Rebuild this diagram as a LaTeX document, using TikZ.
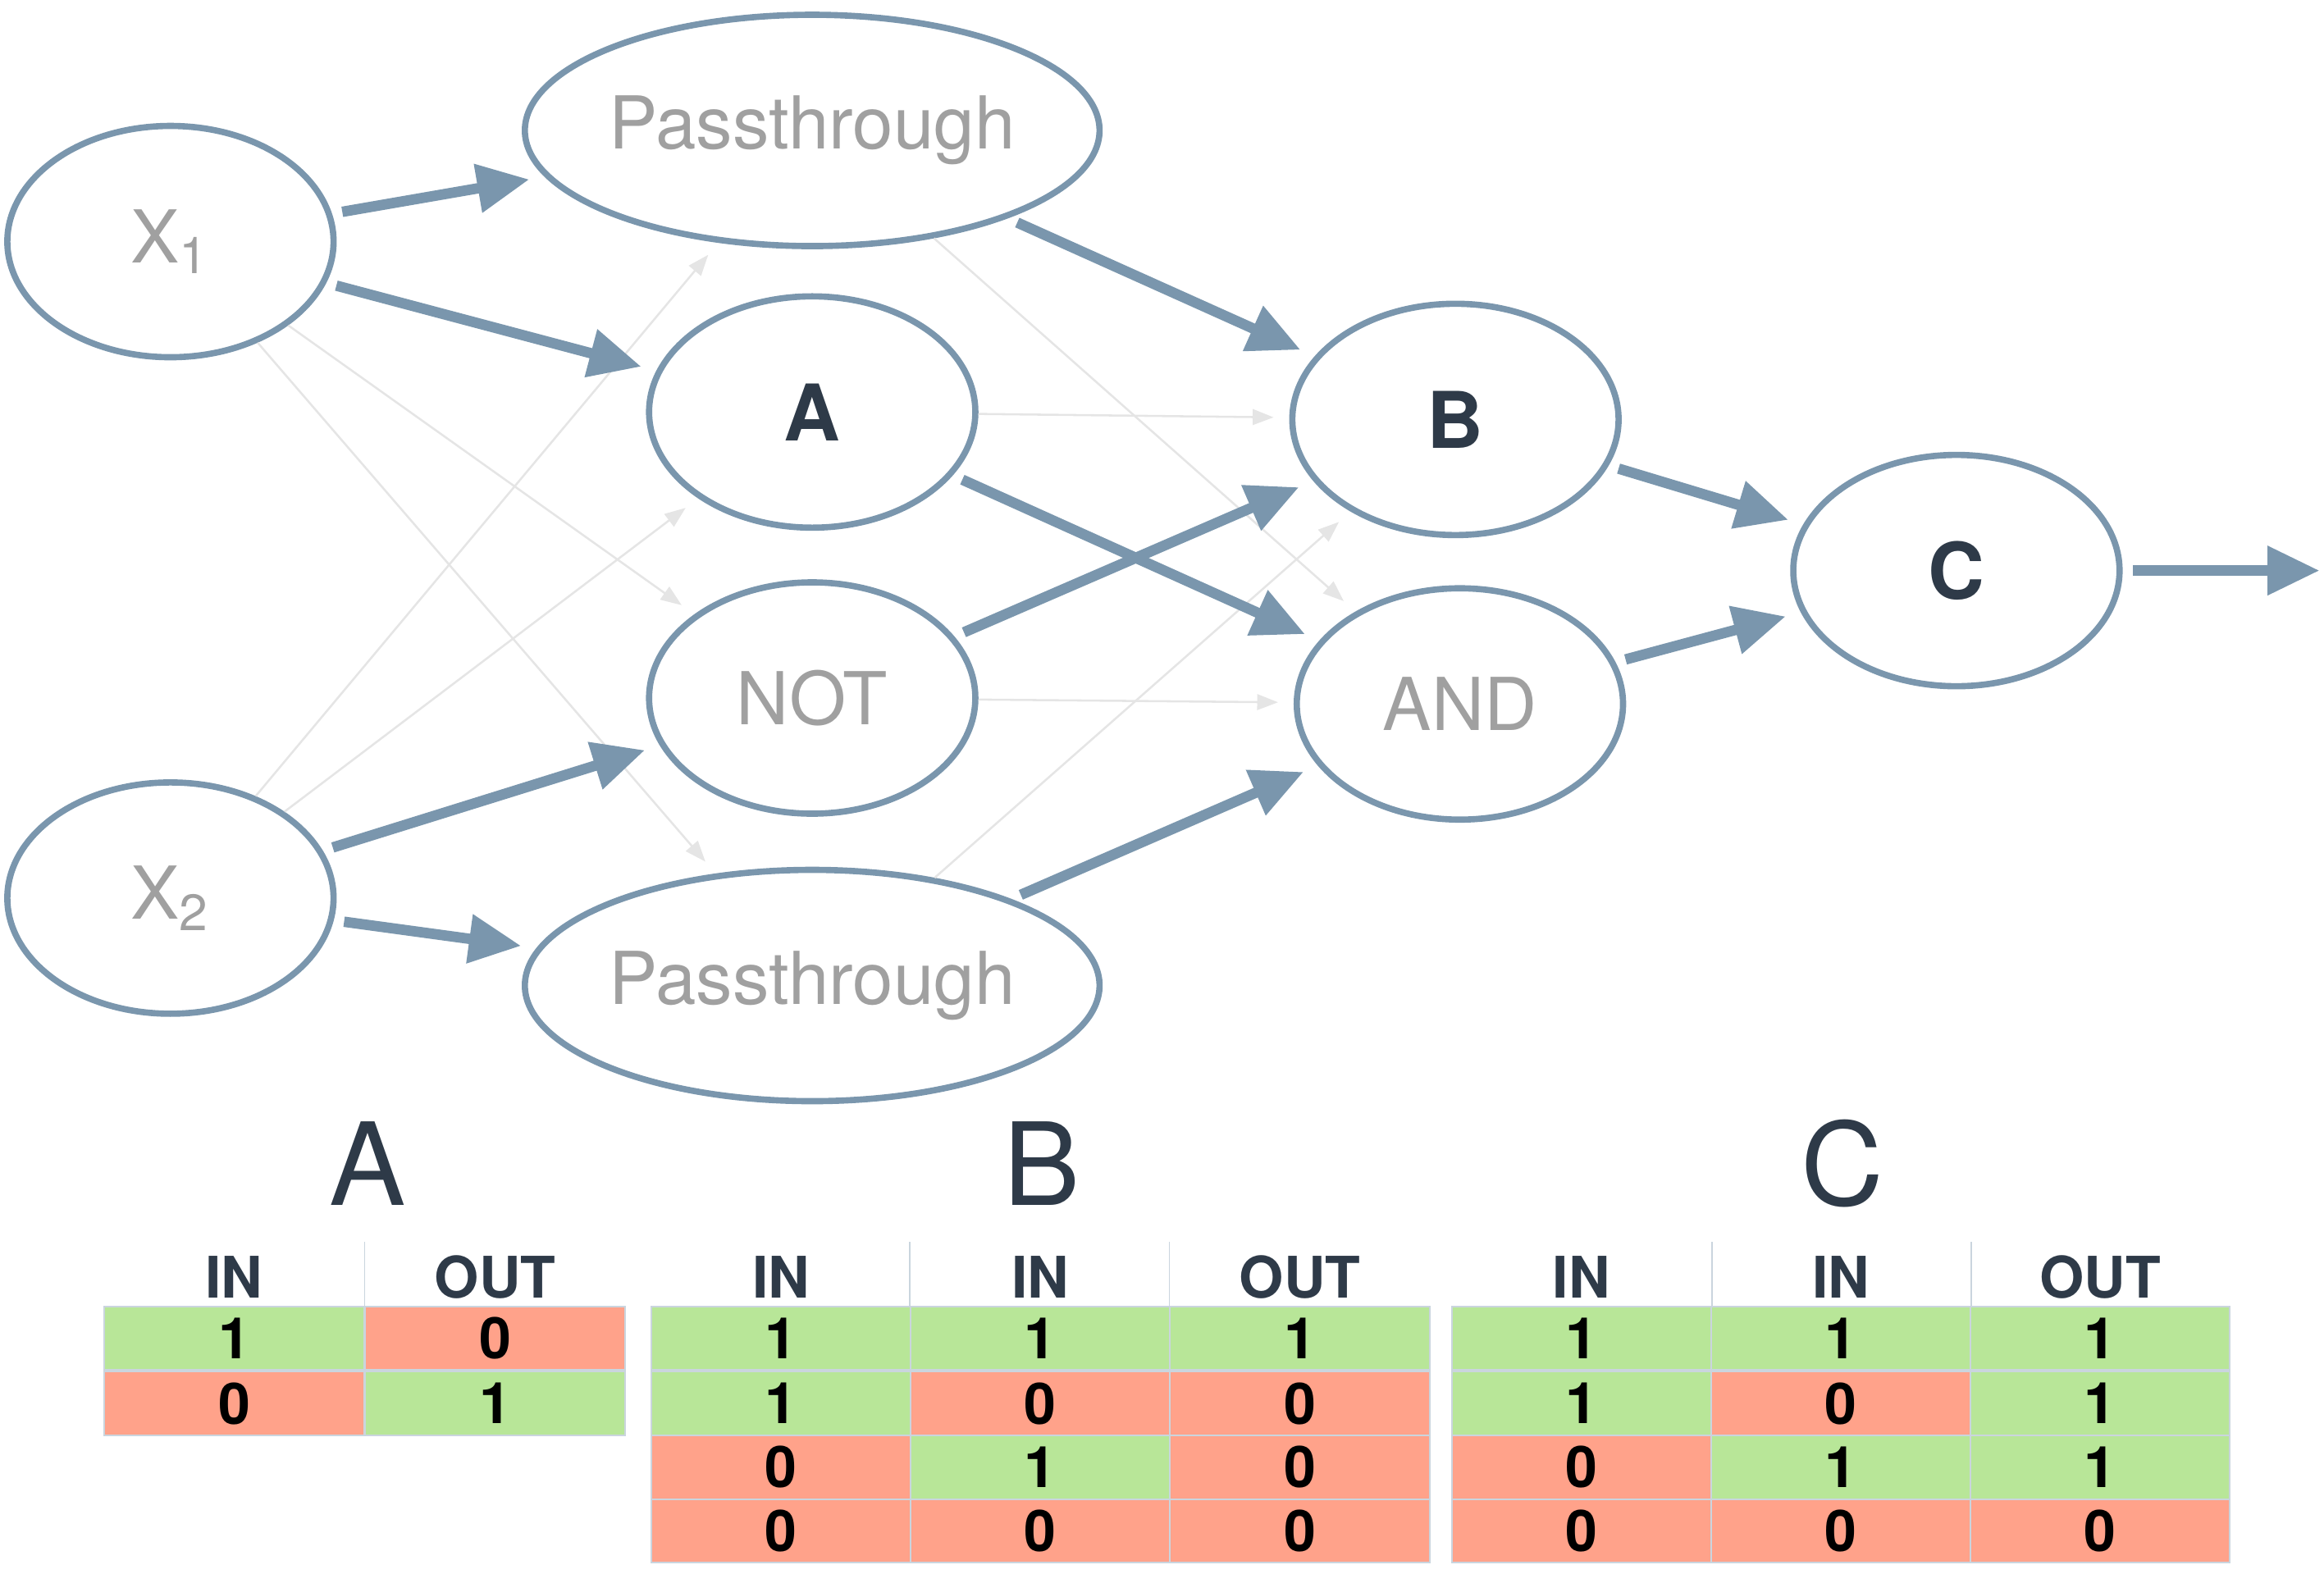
\documentclass[tikz,border=0pt]{standalone}
\usepackage{fontspec}
\setmainfont{TeX Gyre Heros}
\usetikzlibrary{arrows.meta,shapes.geometric}
\definecolor{edgeblue}{HTML}{7A96AD}
\definecolor{okgreen}{HTML}{B8E698}
\definecolor{nored}{HTML}{FFA28A}
\definecolor{labgray}{HTML}{A0A0A0}
\definecolor{dark}{HTML}{2E3A48}
\tikzset{>={Triangle[length=10pt,width=9pt]}}
\tikzset{
  unit/.style={ellipse,draw=edgeblue,line width=1.2pt,minimum width=2.2cm,minimum height=1.56cm,inner sep=0pt,font=\fontsize{14}{16}\selectfont},
  faint/.style={unit,text=labgray},
  strong/.style={unit,text=dark,font=\fontsize{15}{17}\selectfont\bfseries},
  heavy/.style={->,draw=edgeblue,line width=2pt,shorten >=3pt,shorten <=2pt},
  light/.style={->,draw=black!10,line width=0.4pt,shorten >=3pt,>={Triangle[length=4pt,width=3pt]}},
  cell/.style={draw=edgeblue!40,line width=0.3pt,minimum width=1.75cm,minimum height=0.43cm,inner sep=0pt,font=\fontsize{11}{12}\selectfont\bfseries,text=black},
  head/.style={font=\fontsize{11}{12}\selectfont\bfseries,text=dark},
  title/.style={font=\fontsize{22}{24}\selectfont,text=dark}
}
\begin{document}
\begin{tikzpicture}[x=0.01cm,y=-0.01cm]
\useasboundingbox (0,0) rectangle (1568,1062);
% units
\node[faint]  (x1) at (115,163) {X\textsubscript{1}};
\node[faint]  (x2) at (115,606) {X\textsubscript{2}};
\node[faint]  (p1) at (548,88)  {Passthrough};
\node[strong] (a)  at (548,278) {A};
\node[faint]  (nt) at (548,471) {NOT};
\node[faint]  (p2) at (548,665) {Passthrough};
\node[strong] (b)  at (982,283) {B};
\node[faint]  (nd) at (985,475) {AND};
\node[strong] (c)  at (1320,385) {C};
\coordinate (out) at (1565,385);
% weak links
\draw[light] (x1) -- (nt);
\draw[light] (x1) -- (p2);
\draw[light] (x2) -- (p1);
\draw[light] (x2) -- (a);
\draw[light] (p1) -- (nd);
\draw[light] (a)  -- (b);
\draw[light] (nt) -- (nd);
\draw[light] (p2) -- (b);
% strong links
\draw[heavy] (x1) -- (p1);
\draw[heavy] (x1) -- (a);
\draw[heavy] (x2) -- (nt);
\draw[heavy] (x2) -- (p2);
\draw[heavy] (p1) -- (b);
\draw[heavy] (a)  -- (nd);
\draw[heavy] (nt) -- (b);
\draw[heavy] (p2) -- (nd);
\draw[heavy] (b)  -- (c);
\draw[heavy] (nd) -- (c);
\draw[heavy,shorten >=0pt] (c) -- (out);
% truth tables
\node[title] (ta) at (248,785) {A};
\node[title] (tb) at (703,785) {B};
\node[title] (tc) at (1243,785) {C};
\foreach \x/\t [count=\i] in {158/IN,334/OUT}
  \node[head] (ha\i) at (\x,862) {\t};
\draw[edgeblue!40,line width=0.3pt] (246,838) -- (246,882);
\foreach \x/\y/\v/\c [count=\i] in {158/903/1/okgreen,334/903/0/nored,158/947/0/nored,334/947/1/okgreen}
  \node[cell,fill=\c] (ca\i) at (\x,\y) {\v};
\foreach \x/\t [count=\i] in {527/IN,702/IN,877/OUT}
  \node[head] (hb\i) at (\x,862) {\t};
\draw[edgeblue!40,line width=0.3pt] (614,838) -- (614,882) (789,838) -- (789,882);
\foreach \y/\p/\q/\r [count=\i] in {903/1/1/1,947/1/0/0,990/0/1/0,1033/0/0/0}{
  \foreach \x/\v [count=\j] in {527/\p,702/\q,877/\r}{
    \ifnum\v=1 \def\c{okgreen}\else\def\c{nored}\fi
    \node[cell,fill=\c] (cb\i\j) at (\x,\y) {\v};
  }
}
\foreach \x/\t [count=\i] in {1067/IN,1242/IN,1417/OUT}
  \node[head] (hc\i) at (\x,862) {\t};
\draw[edgeblue!40,line width=0.3pt] (1155,838) -- (1155,882) (1330,838) -- (1330,882);
\foreach \y/\p/\q/\r [count=\i] in {903/1/1/1,947/1/0/1,990/0/1/1,1033/0/0/0}{
  \foreach \x/\v [count=\j] in {1067/\p,1242/\q,1417/\r}{
    \ifnum\v=1 \def\c{okgreen}\else\def\c{nored}\fi
    \node[cell,fill=\c] (cc\i\j) at (\x,\y) {\v};
  }
}
\end{tikzpicture}
\end{document}
